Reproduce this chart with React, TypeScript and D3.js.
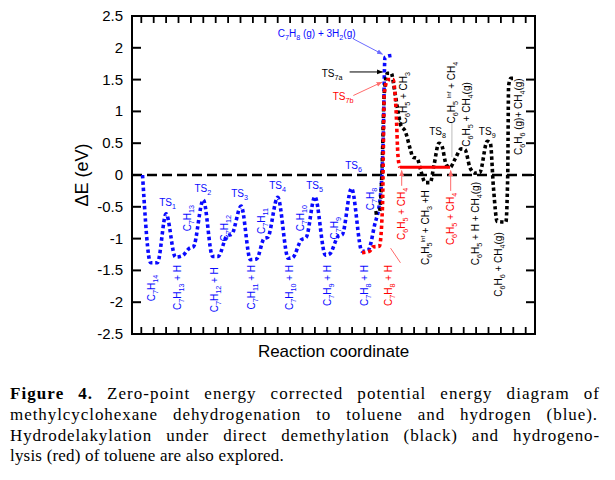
import * as d3 from "d3";
import React, { useLayoutEffect, useRef, useState } from "react";

const W = 615;
const H = 480;

const yTicks = [2.5, 2, 1.5, 1, 0.5, 0, -0.5, -1, -1.5, -2, -2.5];
const xTicks = d3.range(0, 32);

// dehydrogenation of methylcyclohexane (blue)
const bluePath: [number, number][] = [
  [0.1, 0], [0.75, -1.38], [1.3, -1.38], [2.0, -0.61], [2.75, -1.29], [3.3, -1.27],
  [3.9, -1.15], [4.2, -1.13], [5.0, -0.39], [5.75, -1.28], [6.2, -1.28], [6.9, -0.96],
  [7.3, -0.93], [8.05, -0.49], [8.8, -1.33], [9.3, -1.32], [9.9, -1.0], [10.2, -0.98],
  [11.0, -0.35], [11.85, -1.31], [12.2, -1.3], [12.9, -1.02], [13.3, -0.98], [14.0, -0.34],
  [14.85, -1.26], [15.2, -1.24], [15.9, -0.96], [16.2, -0.94], [16.95, -0.21], [17.8, -1.2],
  [18.3, -1.18], [18.8, -0.8], [19.3, -0.3], [19.5, 0.5], [19.65, 1.85], [20.2, 1.88],
];

// direct demethylation (black)
const blackPath: [number, number][] = [
  [18.8, -0.6], [19.2, -0.58], [19.4, 0], [19.6, 1.3], [19.85, 1.6], [20.15, 1.6],
  [20.45, 1.3], [20.7, 1.0], [20.9, 0.8], [21.3, 0.68], [21.7, 0.4], [21.9, 0.28],
  [22.25, 0.26], [22.5, 0.1], [22.9, -0.12], [23.3, -0.12], [23.6, 0.15], [24.0, 0.5],
  [24.2, 0.48], [24.6, 0.16], [24.9, 0.12], [25.3, 0.25], [25.8, 0.41], [26.1, 0.4],
  [26.5, 0.12], [26.9, 0.03], [27.3, 0.04], [27.9, 0.53], [28.15, 0.5], [28.4, -0.2],
  [28.7, -0.73], [29.4, -0.74], [29.55, 0], [29.62, 1.4], [29.8, 1.52], [30.1, 1.52],
];

// hydrogenolysis (red)
const redPath: [number, number][] = [
  [17.8, -1.22], [18.4, -1.2], [18.7, -1.13], [19.2, -1.12], [19.45, -0.5], [19.6, 1.3],
  [19.9, 1.5], [20.3, 1.5], [20.55, 1.0], [20.7, 0.3], [20.85, 0.12],
];
const redPlateau: [number, number][] = [[20.85, 0.12], [24.9, 0.12]];

const BLUE = "#0a0aff";
const RED = "#ff0000";
const BLACK = "#000";

type Lab = { t: string; x: number; y: number; c: string; rot?: boolean; anchor?: string };

const stateLabels: Lab[] = [
  { t: "C_{7}H_{14}", x: 1.07, y: -1.57, c: BLUE, rot: true },
  { t: "C_{7}H_{13} + H", x: 3.17, y: -1.415, c: BLUE, rot: true },
  { t: "C_{7}H_{12} + H", x: 6.15, y: -1.45, c: BLUE, rot: true },
  { t: "C_{7}H_{11} + H", x: 9.2, y: -1.415, c: BLUE, rot: true },
  { t: "C_{7}H_{10} + H", x: 12.2, y: -1.415, c: BLUE, rot: true },
  { t: "C_{7}H_{9} + H", x: 15.27, y: -1.415, c: BLUE, rot: true },
  { t: "C_{7}H_{8} + H", x: 18.25, y: -1.415, c: BLUE, rot: true },
  { t: "C_{7}H_{8} + H", x: 20.2, y: -1.415, c: RED, rot: true },
  { t: "C_{7}H_{13}", x: 3.98, y: -0.47, c: BLUE, rot: true },
  { t: "C_{7}H_{12}", x: 6.96, y: -0.63, c: BLUE, rot: true },
  { t: "C_{7}H_{11}", x: 9.94, y: -0.52, c: BLUE, rot: true },
  { t: "C_{7}H_{10}", x: 13.09, y: -0.47, c: BLUE, rot: true },
  { t: "C_{7}H_{9}", x: 15.9, y: -0.66, c: BLUE, rot: true },
  { t: "C_{7}H_{8}", x: 18.73, y: -0.2, c: BLUE, rot: true },
  { t: "C_{6}H_{5} + CH_{4}", x: 21.23, y: -0.2, c: RED, rot: true },
  { t: "C_{6}H_{5}^{Inf} + CH_{3} +H", x: 23.17, y: -0.24, c: BLACK, rot: true },
  { t: "C_{6}H_{5} + CH_{4}", x: 25.2, y: -0.28, c: RED, rot: true },
  { t: "C_{6}H_{5}  + H + CH_{4}(g)", x: 27.2, y: -0.11, c: BLACK, rot: true },
  { t: "C_{6}H_{6} + CH_{4}(g)", x: 29.05, y: -0.9, c: BLACK, rot: true },
  { t: "C_{6}H_{5} + CH_{3}", x: 21.4, y: 1.62, c: BLACK, rot: true },
  { t: "C_{6}H_{5} ^{Inf} + CH_{4}", x: 25.27, y: 1.78, c: BLACK, rot: true },
  { t: "C_{6}H_{5} + CH_{4}(g)", x: 26.5, y: 1.46, c: BLACK, rot: true },
  { t: "C_{6}H_{6} (g)+ CH_{4}(g)", x: 30.67, y: 1.52, c: BLACK, rot: true },
  { t: "TS_{1}", x: 2.12, y: -0.49, c: BLUE, anchor: "middle" },
  { t: "TS_{2}", x: 4.96, y: -0.27, c: BLUE, anchor: "middle" },
  { t: "TS_{3}", x: 7.93, y: -0.35, c: BLUE, anchor: "middle" },
  { t: "TS_{4}", x: 10.99, y: -0.22, c: BLUE, anchor: "middle" },
  { t: "TS_{5}", x: 13.98, y: -0.22, c: BLUE, anchor: "middle" },
  { t: "TS_{6}", x: 17.12, y: 0.094, c: BLUE, anchor: "middle" },
  { t: "TS_{7a}", x: 14.55, y: 1.54, c: BLACK, anchor: "start" },
  { t: "TS_{7b}", x: 15.43, y: 1.18, c: RED, anchor: "start" },
  { t: "C_{7}H_{8} (g) + 3H_{2}(g)", x: 11.0, y: 2.17, c: BLUE, anchor: "start" },
  { t: "TS_{8}", x: 23.9, y: 0.63, c: BLACK, anchor: "middle" },
  { t: "TS_{9}", x: 27.9, y: 0.63, c: BLACK, anchor: "middle" },
];

// pointer lines: from -> to, in data units
const pointers = [
  { from: [17.1, 2.14], to: [19.45, 1.9], c: "#6b6bff", head: true },
  { from: [16.8, 1.62], to: [19.45, 1.62], c: BLACK, head: true },
  { from: [17.1, 1.25], to: [19.4, 1.46], c: "#ff6b6b", head: true },
  { from: [21.0, -0.17], to: [21.0, 0.07], c: "#ff6b6b", head: true },
  { from: [24.95, -0.25], to: [24.95, 0.07], c: "#ff6b6b", head: true },
  { from: [25.05, 0.83], to: [25.05, 0.28], c: "#bbbbbb", head: false },
  { from: [20.9, -1.38], to: [20.1, -1.15], c: "#ff6b6b", head: false },
];

const captionLines = [
  "Zero-point energy corrected potential energy diagram of",
  "methylcyclohexane dehydrogenation to toluene and hydrogen (blue).",
  "Hydrodelakylation under direct demethylation (black) and hydrogeno-",
  "lysis (red) of toluene are also explored.",
];

function rich(s: string, fs: number) {
  const parts = s.split(/(_\{[^}]*\}|\^\{[^}]*\})/).filter((p) => p.length);
  let shift = 0;
  return parts.map((p, i) => {
    let target = 0;
    let text = p;
    let size = fs;
    if (p.startsWith("_{")) {
      target = fs * 0.3;
      text = p.slice(2, -1);
      size = fs * 0.72;
    } else if (p.startsWith("^{")) {
      target = -fs * 0.4;
      text = p.slice(2, -1);
      size = fs * 0.6;
    }
    const dy = target - shift;
    shift = target;
    return (
      <tspan key={i} dy={dy} fontSize={size}>
        {text}
      </tspan>
    );
  });
}

const BASE_LS = 0.2;

// justified caption line: spreads letters and spaces so the line reaches `width`
function Justified({ x, y, width, bold, text }: { x: number; y: number; width?: number; bold?: string; text: string }) {
  const ref = useRef<SVGTextElement>(null);
  const [sp, setSp] = useState({ ls: BASE_LS, ws: 0 });
  useLayoutEffect(() => {
    if (!ref.current || !width) return;
    const natural = ref.current.getComputedTextLength();
    const full = (bold ? bold + " " : "") + text;
    const gaps = full.split(" ").length - 1;
    const extra = width - natural;
    if (extra > 0 && gaps > 0) {
      setSp({ ls: BASE_LS + (0.45 * extra) / full.length, ws: (0.55 * extra) / gaps });
    }
  }, [width, text, bold]);
  return (
    <text ref={ref} x={x} y={y} style={{ wordSpacing: `${sp.ws}px`, letterSpacing: `${sp.ls}px` }}>
      {bold ? <tspan fontWeight="bold">{bold}</tspan> : null}
      {bold ? " " : ""}
      {text}
    </text>
  );
}

export default function App() {
  const left = 132, right = 535, top = 16, bottom = 334;
  const x = d3.scaleLinear().domain([-0.75, 31.75]).range([left, right]);
  const y = d3.scaleLinear().domain([-2.5, 2.5]).range([bottom, top]);
  const line = d3
    .line<[number, number]>()
    .x((d) => x(d[0]))
    .y((d) => y(d[1]))
    .curve(d3.curveMonotoneX);
  const straight = d3
    .line<[number, number]>()
    .x((d) => x(d[0]))
    .y((d) => y(d[1]));

  const dots = { fill: "none", strokeWidth: 3.6, strokeDasharray: "3.4 2.8" };
  const font = "'Liberation Sans', Arial, sans-serif";

  return (
    <svg width={W} height={H} style={{ position: "absolute", left: 0, top: 0, background: "#fff" }}>
      <defs>
        {pointers.map((p, i) => (
          <marker key={i} id={`ah${i}`} viewBox="0 0 10 10" refX="9" refY="5" markerWidth="6" markerHeight="6" orient="auto">
            <path d="M0,1 L10,5 L0,9 z" fill={p.c} />
          </marker>
        ))}
      </defs>

      {/* zero line */}
      <line x1={left} x2={right} y1={y(0)} y2={y(0)} stroke="#000" strokeWidth={2.4} strokeDasharray="10 5" />

      {/* curves */}
      <path d={line(bluePath) || ""} stroke={BLUE} {...dots} />
      <path d={line(blackPath) || ""} stroke={BLACK} {...dots} />
      <path d={line(redPath) || ""} stroke={RED} {...dots} />
      <path d={straight(redPlateau) || ""} stroke={RED} strokeWidth={3} fill="none" />

      {/* pointers */}
      {pointers.map((p, i) => (
        <line
          key={i}
          x1={x(p.from[0])}
          y1={y(p.from[1])}
          x2={x(p.to[0])}
          y2={y(p.to[1])}
          stroke={p.c}
          strokeWidth={1}
          markerEnd={p.head ? `url(#ah${i})` : undefined}
        />
      ))}

      {/* labels */}
      {stateLabels.map((l, i) =>
        l.rot ? (
          <text
            key={i}
            transform={`translate(${x(l.x)},${y(l.y)}) rotate(-90)`}
            textAnchor="end"
            fill={l.c}
            fontFamily={font}
            fontSize={10}
          >
            {rich(l.t, 10)}
          </text>
        ) : (
          <text key={i} x={x(l.x)} y={y(l.y)} textAnchor={l.anchor} fill={l.c} fontFamily={font} fontSize={10}>
            {rich(l.t, 10)}
          </text>
        )
      )}

      {/* frame */}
      <rect x={left} y={top} width={right - left} height={bottom - top} fill="none" stroke="#000" strokeWidth={2} />
      {xTicks.map((t) => (
        <g key={t} stroke="#000" strokeWidth={1.8}>
          <line x1={x(t)} x2={x(t)} y1={bottom} y2={bottom - 7} />
          <line x1={x(t)} x2={x(t)} y1={top} y2={top + 7} />
        </g>
      ))}
      {yTicks.map((t) => (
        <g key={t}>
          <line x1={left} x2={left + 9} y1={y(t)} y2={y(t)} stroke="#000" strokeWidth={2} />
          <line x1={right} x2={right - 9} y1={y(t)} y2={y(t)} stroke="#000" strokeWidth={2} />
          <text x={left - 9} y={y(t) + 5} textAnchor="end" fontFamily={font} fontSize={15}>
            {t}
          </text>
        </g>
      ))}

      <text transform={`translate(88,${y(0)}) rotate(-90)`} textAnchor="middle" fontFamily={font} fontSize={18}>
        ΔE (eV)
      </text>
      <text x={(left + right) / 2} y={357} textAnchor="middle" fontFamily={font} fontSize={17}>
        Reaction coordinate
      </text>

      {/* caption */}
      <g fontFamily="'Liberation Serif', 'Times New Roman', serif" fontSize={17}>
        <Justified x={10} y={399} width={590} bold="Figure 4." text={captionLines[0]} />
        <Justified x={10} y={420} width={588} text={captionLines[1]} />
        <Justified x={10} y={440.5} width={590} text={captionLines[2]} />
        <Justified x={10} y={461} text={captionLines[3]} />
      </g>
    </svg>
  );
}
